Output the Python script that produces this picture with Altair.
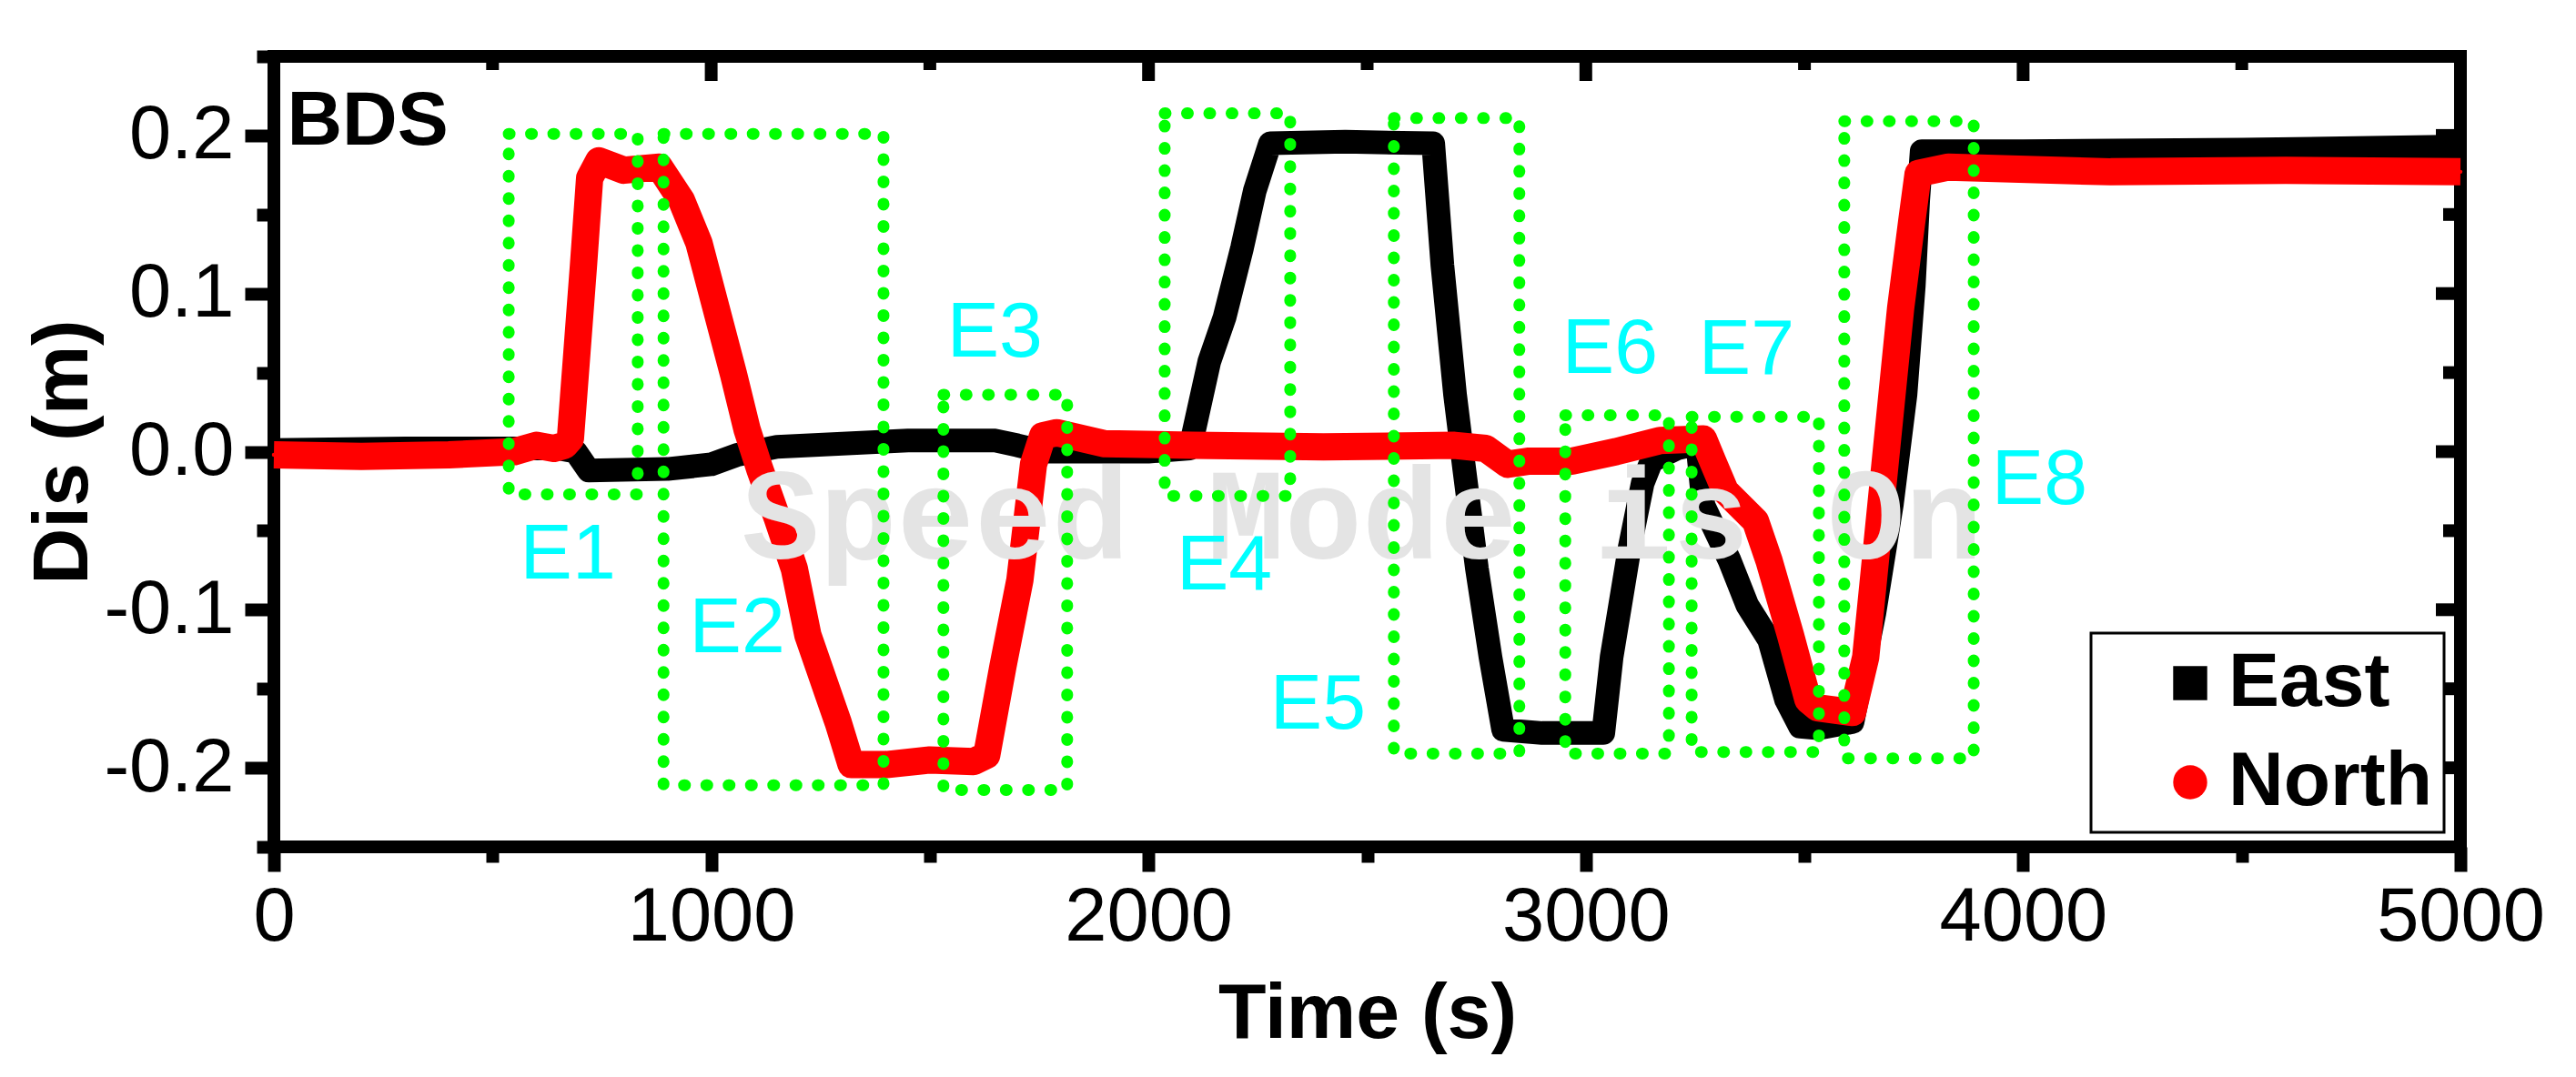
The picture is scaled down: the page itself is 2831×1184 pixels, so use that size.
import altair as alt
import pandas as pd

FONT = "Liberation Sans"

# ---- series ----
east_time = [0, 300, 650, 690, 720, 900, 1000, 1060, 1150, 1300, 1450, 1650, 1700, 1760, 2000, 2095,
             2139, 2174, 2214, 2243, 2278, 2450, 2651, 2672, 2701, 2722, 2751, 2782, 2811, 2900, 3040,
             3059, 3100, 3130, 3150, 3208, 3255, 3269, 3329, 3369, 3419, 3458, 3490, 3531, 3610, 3660,
             3700, 3731, 3750, 3760, 3768, 4000, 4500, 5000]
east_dis = [0.001, 0.002, 0.002, 0.000, -0.012, -0.011, -0.008, -0.002, 0.003, 0.005, 0.007, 0.007, 0.004,
            0.000, 0.000, 0.002, 0.057, 0.085, 0.129, 0.165, 0.195, 0.196, 0.195, 0.118, 0.036, -0.011,
            -0.074, -0.130, -0.176, -0.178, -0.178, -0.130, -0.061, -0.020, -0.006, 0.002, 0.005, -0.034,
            -0.069, -0.097, -0.119, -0.157, -0.174, -0.175, -0.171, -0.102, -0.033, 0.036, 0.105, 0.159,
            0.190, 0.190, 0.191, 0.193]

north_time = [0, 200, 400, 550, 600, 640, 665, 678, 693, 708, 722, 743, 800, 882, 932, 972, 1011, 1051,
              1082, 1111, 1151, 1190, 1221, 1261, 1290, 1320, 1400, 1500, 1600, 1630, 1667, 1706, 1737,
              1758, 1790, 1900, 2100, 2400, 2700, 2771, 2821, 2871, 2969, 3069, 3169, 3269, 3290, 3319,
              3388, 3419, 3468, 3508, 3530, 3610, 3640, 3670, 3695, 3720, 3745, 3760, 3829, 4200, 4600, 5000]
north_dis = [-0.002, -0.003, -0.002, 0.000, 0.004, 0.002, 0.004, 0.008, 0.063, 0.118, 0.173, 0.184, 0.178,
             0.180, 0.159, 0.132, 0.091, 0.049, 0.014, -0.011, -0.042, -0.074, -0.116, -0.148, -0.171,
             -0.198, -0.198, -0.195, -0.196, -0.192, -0.136, -0.081, -0.008, 0.010, 0.012, 0.005, 0.004,
             0.003, 0.004, 0.002, -0.008, -0.006, -0.006, 0.000, 0.007, 0.008, -0.006, -0.025, -0.044,
             -0.069, -0.116, -0.157, -0.162, -0.165, -0.130, -0.047, 0.022, 0.091, 0.145, 0.176, 0.180,
             0.177, 0.178, 0.177]

# ---- event boxes (dotted green) ----
event_names = ["E1", "E2", "E3", "E4", "E5", "E6", "E7", "E8"]
box_t_start = [537, 891, 1531, 2037, 2561, 2953, 3242, 3591]
box_t_end = [832, 1394, 1814, 2324, 2848, 3190, 3533, 3887]
box_top = [0.201, 0.201, 0.036, 0.214, 0.211, 0.023, 0.022, 0.209]
box_bottom = [-0.027, -0.211, -0.214, -0.028, -0.191, -0.191, -0.190, -0.194]
label_time = [563, 950, 1539, 2064, 2278, 2946, 3258, 3928]
label_dis = [-0.080, -0.127, 0.060, -0.087, -0.175, 0.050, 0.049, -0.033]

panel_text = ["BDS"]
panel_time = [30]
panel_dis = [0.194]

watermark_text = ["Speed Mode is On"]
watermark_time = [1070]
watermark_dis = [-0.0675]

legend_series = ["East", "North"]
legend_colors = ["black", "red"]
legend_shapes = ["square", "circle"]

x_ticks = [0, 500, 1000, 1500, 2000, 2500, 3000, 3500, 4000, 4500, 5000]
x_major = [0, 1000, 2000, 3000, 4000, 5000]
x_minor = [500, 1500, 2500, 3500, 4500]
y_ticks = [-0.25, -0.2, -0.15, -0.1, -0.05, 0.0, 0.05, 0.1, 0.15, 0.2, 0.25]
y_major = [-0.2, -0.1, 0.0, 0.1, 0.2]
y_minor = [-0.25, -0.15, -0.05, 0.05, 0.15, 0.25]

W, H = 2403, 869
X_MIN, X_MAX = 0, 5000
Y_MIN, Y_MAX = -0.25, 0.25


def px_to_dx(px):
    return px * (X_MAX - X_MIN) / W


def px_to_dy(px):
    return px * (Y_MAX - Y_MIN) / H


east_df = pd.DataFrame({"time": east_time, "dis": east_dis, "series": "East"})
north_df = pd.DataFrame({"time": north_time, "dis": north_dis, "series": "North"})
both_df = pd.concat([east_df, north_df], ignore_index=True)
box_df = pd.DataFrame({"name": event_names, "t1": box_t_start, "t2": box_t_end,
                       "top": box_top, "bottom": box_bottom})
lab_df = pd.DataFrame({"name": event_names, "time": label_time, "dis": label_dis})
panel_df = pd.DataFrame({"text": panel_text, "time": panel_time, "dis": panel_dis})
wm_df = pd.DataFrame({"text": watermark_text, "time": watermark_time, "dis": watermark_dis})

# inward mirror ticks on the top / right frame, from the tick values through the scales
top_ticks = pd.DataFrame({
    "tx": x_major + x_minor,
    "y0": [Y_MAX] * (len(x_major) + len(x_minor)),
    "y1": [Y_MAX - px_to_dy(27)] * len(x_major) + [Y_MAX - px_to_dy(15)] * len(x_minor),
})
right_ticks = pd.DataFrame({
    "ty": y_major + y_minor,
    "x0": [X_MAX] * (len(y_major) + len(y_minor)),
    "x1": [X_MAX - px_to_dx(27)] * len(y_major) + [X_MAX - px_to_dx(19)] * len(y_minor),
})

xs = alt.Scale(domain=[X_MIN, X_MAX], nice=False, zero=False)
ys = alt.Scale(domain=[Y_MIN, Y_MAX], nice=False, zero=False)

X_MAJOR = "datum.value % 1000 === 0"
Y_MAJOR = "abs(datum.value * 10 - round(datum.value * 10)) < 1e-6"

x_bottom = alt.Axis(
    orient="bottom", values=x_ticks, title="Time (s)",
    labelExpr=f"{X_MAJOR} ? format(datum.value, 'd') : ''",
    tickSize={"condition": {"test": X_MAJOR, "value": 27}, "value": 17},
    tickWidth=14, tickColor="black",
    domain=False, grid=False, labelFont=FONT, labelFontSize=83, labelColor="black",
    labelPadding=9, labelFlush=False, labelOverlap=False, labelBound=False, labelLimit=0,
    titleFont=FONT, titleFontSize=86, titleFontWeight="bold", titleColor="black", titlePadding=22,
)
y_left = alt.Axis(
    orient="left", values=y_ticks, title="Dis (m)",
    labelExpr=f"{Y_MAJOR} ? (datum.value < -1e-9 ? '-' : '') + format(abs(datum.value), '.1f') : ''",
    tickSize={"condition": {"test": Y_MAJOR, "value": 32}, "value": 19},
    tickWidth=14, tickColor="black",
    domain=False, grid=False, labelFont=FONT, labelFontSize=83, labelColor="black",
    labelPadding=12, labelFlush=False, labelOverlap=False, labelBound=False, labelLimit=0,
    titleFont=FONT, titleFontSize=86, titleFontWeight="bold", titleColor="black", titlePadding=0,
)


def X(field):
    return alt.X(field, scale=xs, axis=x_bottom)


def Y(field):
    return alt.Y(field, scale=ys, axis=y_left)


legend = alt.Legend(
    orient="none", legendX=1997, legendY=634, title=" ", titleOrient="left", titleFontSize=1,
    titlePadding=34,
    labelFont=FONT, labelFontSize=84, labelFontWeight="bold", labelColor="black", labelLimit=0,
    symbolSize=1400, symbolStrokeWidth=0, padding=13, rowPadding=25,
    labelOffset=0, symbolOffset=20, strokeColor="black", fillColor="white",
)

legend_pts = alt.Chart(both_df).mark_point(filled=True, size=20, opacity=1).encode(
    x=X("time:Q"), y=Y("dis:Q"),
    color=alt.Color("series:N", scale=alt.Scale(domain=legend_series, range=legend_colors), legend=legend),
    shape=alt.Shape("series:N", scale=alt.Scale(domain=legend_series, range=legend_shapes), legend=legend),
)

east_line = alt.Chart(east_df).mark_line(color="black", strokeWidth=26, strokeJoin="round").encode(
    x=X("time:Q"), y=Y("dis:Q"),
)
north_line = alt.Chart(north_df).mark_line(color="#ff0000", strokeWidth=30, strokeJoin="round").encode(
    x=X("time:Q"), y=Y("dis:Q"),
)

watermark = alt.Chart(wm_df).mark_text(
    align="left", baseline="alphabetic", font="Liberation Mono", fontSize=142,
    fontWeight="bold", color="#e4e4e4",
).encode(x=X("time:Q"), y=Y("dis:Q"), text="text:N")

boxes = alt.Chart(box_df).mark_rect(
    filled=False, stroke="#00ff00", strokeWidth=13, strokeDash=[1, 23.5], strokeCap="round",
).encode(x=X("t1:Q"), x2="t2:Q", y=Y("top:Q"), y2="bottom:Q")

labels = alt.Chart(lab_df).mark_text(
    align="left", baseline="alphabetic", font=FONT, fontSize=86, color="#00ffff",
).encode(x=X("time:Q"), y=Y("dis:Q"), text="name:N")

panel = alt.Chart(panel_df).mark_text(
    align="left", baseline="alphabetic", font=FONT, fontSize=84, fontWeight="bold", color="black",
).encode(x=X("time:Q"), y=Y("dis:Q"), text="text:N")

top_rules = alt.Chart(top_ticks).mark_rule(color="black", strokeWidth=14).encode(
    x=X("tx:Q"), y=Y("y0:Q"), y2="y1:Q")
right_rules = alt.Chart(right_ticks).mark_rule(color="black", strokeWidth=14).encode(
    y=Y("ty:Q"), x=X("x0:Q"), x2="x1:Q")

chart = alt.layer(
    legend_pts, east_line, north_line, watermark, boxes, labels, panel, top_rules, right_rules,
).properties(
    width=W, height=H,
    padding={"left": 301, "top": 62, "right": 127, "bottom": 253},
    autosize=alt.AutoSizeParams(type="none"),
    background="white",
).configure_view(
    stroke="black", strokeWidth=14
).configure_legend(
    strokeWidth=3
)

chart.save("out.html", embed_options={"renderer": "svg", "actions": False})
